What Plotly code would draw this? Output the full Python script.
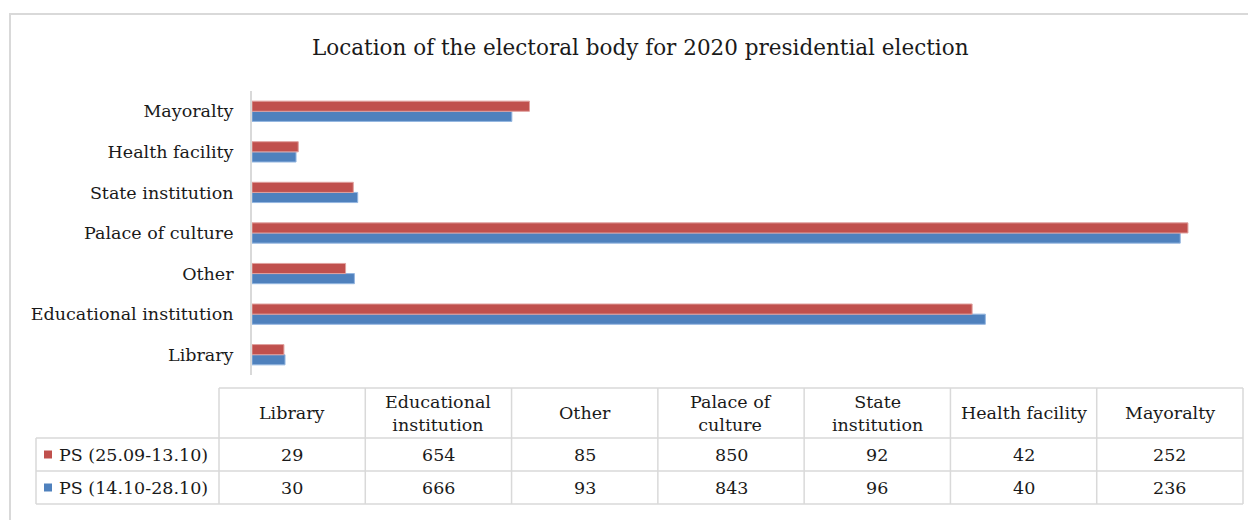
import plotly.graph_objects as go

# ---- data ----
categories = ["Library", "Educational institution", "Other", "Palace of culture",
              "State institution", "Health facility", "Mayoralty"]
header_labels = ["Library", "Educational<br>institution", "Other", "Palace of<br>culture",
                 "State<br>institution", "Health facility", "Mayoralty"]
series_names = ["PS (25.09-13.10)", "PS (14.10-28.10)"]
ps_first = [29, 654, 85, 850, 92, 42, 252]
ps_second = [30, 666, 93, 843, 96, 40, 236]
title_text = "Location of the electoral body for 2020 presidential election"

# ---- style ----
W, H = 1256, 520
OFF = 8  # page body margin
FONT = "DejaVu Serif"
FS = 17.5
RED, BLUE = "#C0504D", "#4F81BD"
RED_EDGE, BLUE_EDGE = "#E0A09E", "#94B6E0"
GRID = "#D9D9D9"
TXT = "#1A1A1A"

def px(x):
    return (x - OFF) / W

def py(y):
    return 1 - (y - OFF) / H

fig = go.Figure()
# blue first so it sits below red within each group
fig.add_trace(go.Bar(y=categories, x=ps_second, orientation="h", name=series_names[1],
                     marker=dict(color=BLUE, line=dict(color=BLUE_EDGE, width=1))))
fig.add_trace(go.Bar(y=categories, x=ps_first, orientation="h", name=series_names[0],
                     marker=dict(color=RED, line=dict(color=RED_EDGE, width=1))))

plot_left, plot_right = 252, 1243
plot_top, plot_bottom = 91, 375

fig.update_layout(
    width=W, height=H,
    margin=dict(l=0, r=0, t=0, b=0),
    paper_bgcolor="white", plot_bgcolor="white",
    barmode="group", bargap=0.5, bargroupgap=0,
    showlegend=False,
    font=dict(family=FONT, color=TXT, size=FS),
    xaxis=dict(domain=[px(plot_left), px(plot_right)], range=[0, 900],
               showgrid=False, zeroline=False, showticklabels=False, showline=False),
    yaxis=dict(domain=[py(plot_bottom), py(plot_top)], categoryorder="array",
               categoryarray=categories, showgrid=False, zeroline=False,
               showline=True, linecolor=GRID, linewidth=2,
               ticks="outside", ticklen=13, tickcolor="rgba(0,0,0,0)",
               tickfont=dict(family=FONT, size=FS, color=TXT)),
)

shapes = []
annotations = []

# outer chart border
shapes.append(dict(type="rect", xref="paper", yref="paper",
                   x0=px(10), x1=px(1300), y0=py(560), y1=py(14),
                   line=dict(color=GRID, width=2), fillcolor="rgba(0,0,0,0)"))

# title
annotations.append(dict(text=title_text, xref="paper", yref="paper", x=px(640), y=py(48),
                        xanchor="center", yanchor="middle", showarrow=False,
                        font=dict(family=FONT, size=21.5, color=TXT)))

# ---- data table ----
label_left = 36
col_left = 219
ncol = len(categories)
col_w = (plot_right - col_left) / ncol
row_y = [388, 438, 471, 504]

def hline(x0, x1, y):
    shapes.append(dict(type="line", xref="paper", yref="paper", x0=px(x0), x1=px(x1),
                       y0=py(y), y1=py(y), line=dict(color=GRID, width=1.5)))

def vline(x, y0, y1):
    shapes.append(dict(type="line", xref="paper", yref="paper", x0=px(x), x1=px(x),
                       y0=py(y0), y1=py(y1), line=dict(color=GRID, width=1.5)))

hline(col_left, plot_right, row_y[0])
for y in row_y[1:]:
    hline(label_left, plot_right, y)
vline(label_left, row_y[1], row_y[3])
for i in range(ncol + 1):
    vline(col_left + i * col_w, row_y[0], row_y[3])

for i, lab in enumerate(header_labels):
    cx = col_left + (i + 0.5) * col_w
    annotations.append(dict(text=lab, xref="paper", yref="paper", x=px(cx),
                            y=py((row_y[0] + row_y[1]) / 2), xanchor="center", yanchor="middle",
                            showarrow=False, font=dict(family=FONT, size=FS, color=TXT)))

for r, (name, vals, col) in enumerate([(series_names[0], ps_first, RED),
                                       (series_names[1], ps_second, BLUE)]):
    cy = (row_y[r + 1] + row_y[r + 2]) / 2
    shapes.append(dict(type="rect", xref="paper", yref="paper", x0=px(44), x1=px(52),
                       y0=py(cy + 4), y1=py(cy - 4), fillcolor=col, line=dict(width=0)))
    annotations.append(dict(text=name, xref="paper", yref="paper", x=px(57), y=py(cy),
                            xanchor="left", yanchor="middle", showarrow=False,
                            font=dict(family=FONT, size=FS, color=TXT)))
    for i, v in enumerate(vals):
        cx = col_left + (i + 0.5) * col_w
        annotations.append(dict(text=str(v), xref="paper", yref="paper", x=px(cx), y=py(cy),
                                xanchor="center", yanchor="middle", showarrow=False,
                                font=dict(family=FONT, size=FS, color=TXT)))

fig.update_layout(shapes=shapes, annotations=annotations)
fig.write_html("out.html")
